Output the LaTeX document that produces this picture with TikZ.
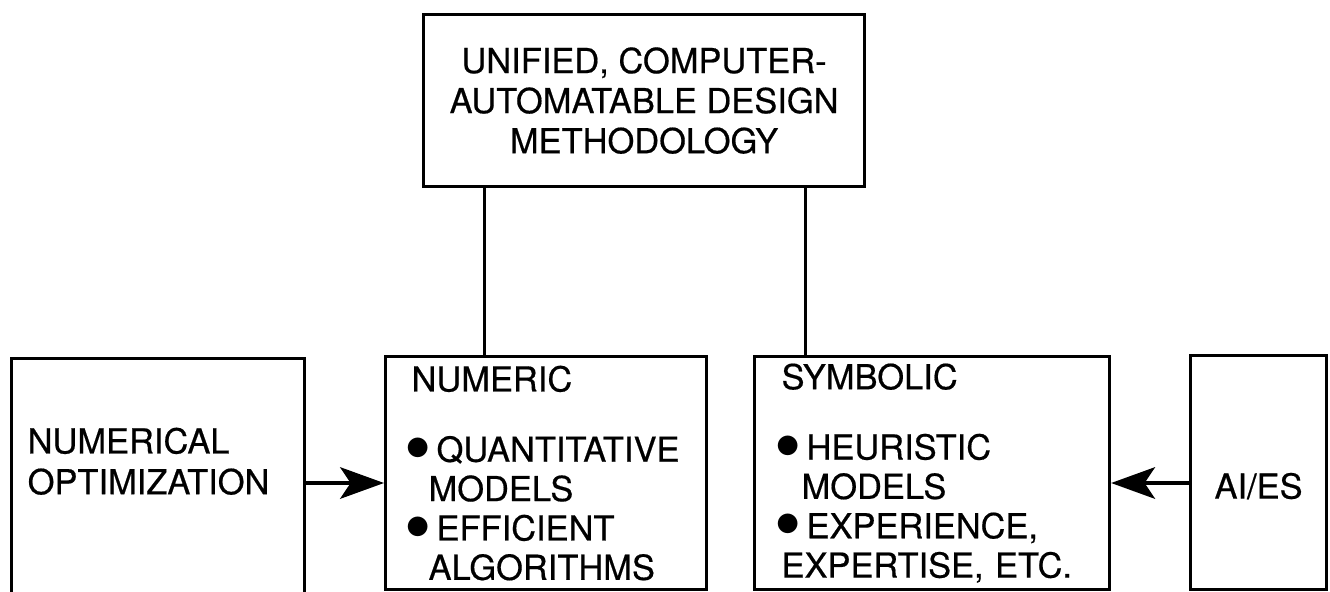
\documentclass[tikz,border=0pt]{standalone}
\usepackage{graphicx}
\usepackage{fontspec}
\setmainfont{TeX Gyre Heros}[FakeBold=0.5]
\usetikzlibrary{arrows.meta, positioning, calc}

\newcommand{\bul}{\makebox[0.25cm][l]{\hspace{-0.06cm}\raisebox{0.4pt}{\fontsize{15pt}{15pt}\selectfont$\bullet$}}}

\tikzset{
  box/.style={draw, line width=0.9pt, rectangle, anchor=north west, inner sep=0pt},
  lbl/.style={font=\fontsize{9.8pt}{11.2pt}\selectfont},
  conn/.style={line width=0.9pt},
  arr/.style={-{Stealth[length=12.5pt, width=9pt, inset=3pt]}, line width=0.9pt},
}

\begin{document}
\begin{tikzpicture}
  \useasboundingbox (0,0) rectangle (13.30,-5.91);
  % top box
  \node[box, lbl, font=\fontsize{9.8pt}{11.4pt}\selectfont, align=center,
        minimum width=4.41cm, minimum height=1.72cm] (unified) at (4.22,-0.13)
        {UNIFIED, COMPUTER-\\AUTOMATABLE DESIGN\\METHODOLOGY};
  % lower row
  \node[box, minimum width=2.93cm, minimum height=2.80cm] (opt) at (0.10,-3.57) {};
  \node[lbl, font=\fontsize{9.8pt}{11.6pt}\selectfont, align=left, anchor=north west,
        inner sep=0pt] (opttxt) at ([xshift=0.17cm, yshift=-0.70cm]opt.north west)
        {NUMERICAL\\OPTIMIZATION};
  \node[box, lbl, align=left, text width=2.69cm, inner xsep=0.26cm,
        minimum height=2.33cm] (num) at (3.84,-3.55)
        {NUMERIC\\[8.8pt]
         \bul QUANTITATIVE\\
         \hspace*{0.17cm}MODELS\\
         \bul EFFICIENT\\
         \hspace*{0.17cm}ALGORITHMS};
  \node[box, lbl, align=left, text width=3.01cm, inner xsep=0.27cm,
        minimum height=2.33cm] (sym) at (7.53,-3.55)
        {SYMBOLIC\\[8.8pt]
         \bul HEURISTIC\\
         \hspace*{0.2cm}MODELS\\
         \bul EXPERIENCE,\\
         EXPERTISE, ETC.};
  \node[box, lbl, minimum width=1.36cm, minimum height=2.34cm,
        text height=0.52cm, text depth=0pt] (aies) at (11.89,-3.54) {AI/ES};
  % connectors
  \coordinate (ay) at (0,-4.83);
  \path ($(num.north west)!0.31!(num.north east)$) coordinate (numtop)
        ($(sym.north west)!0.146!(sym.north east)$) coordinate (symtop);
  \draw[conn] (unified.south -| numtop) -- (numtop);
  \draw[conn] (unified.south -| symtop) -- (symtop);
  \draw[arr] (opt.east |- ay) -- (num.west |- ay);
  \draw[arr] (aies.west |- ay) -- (sym.east |- ay);
\end{tikzpicture}
\end{document}
